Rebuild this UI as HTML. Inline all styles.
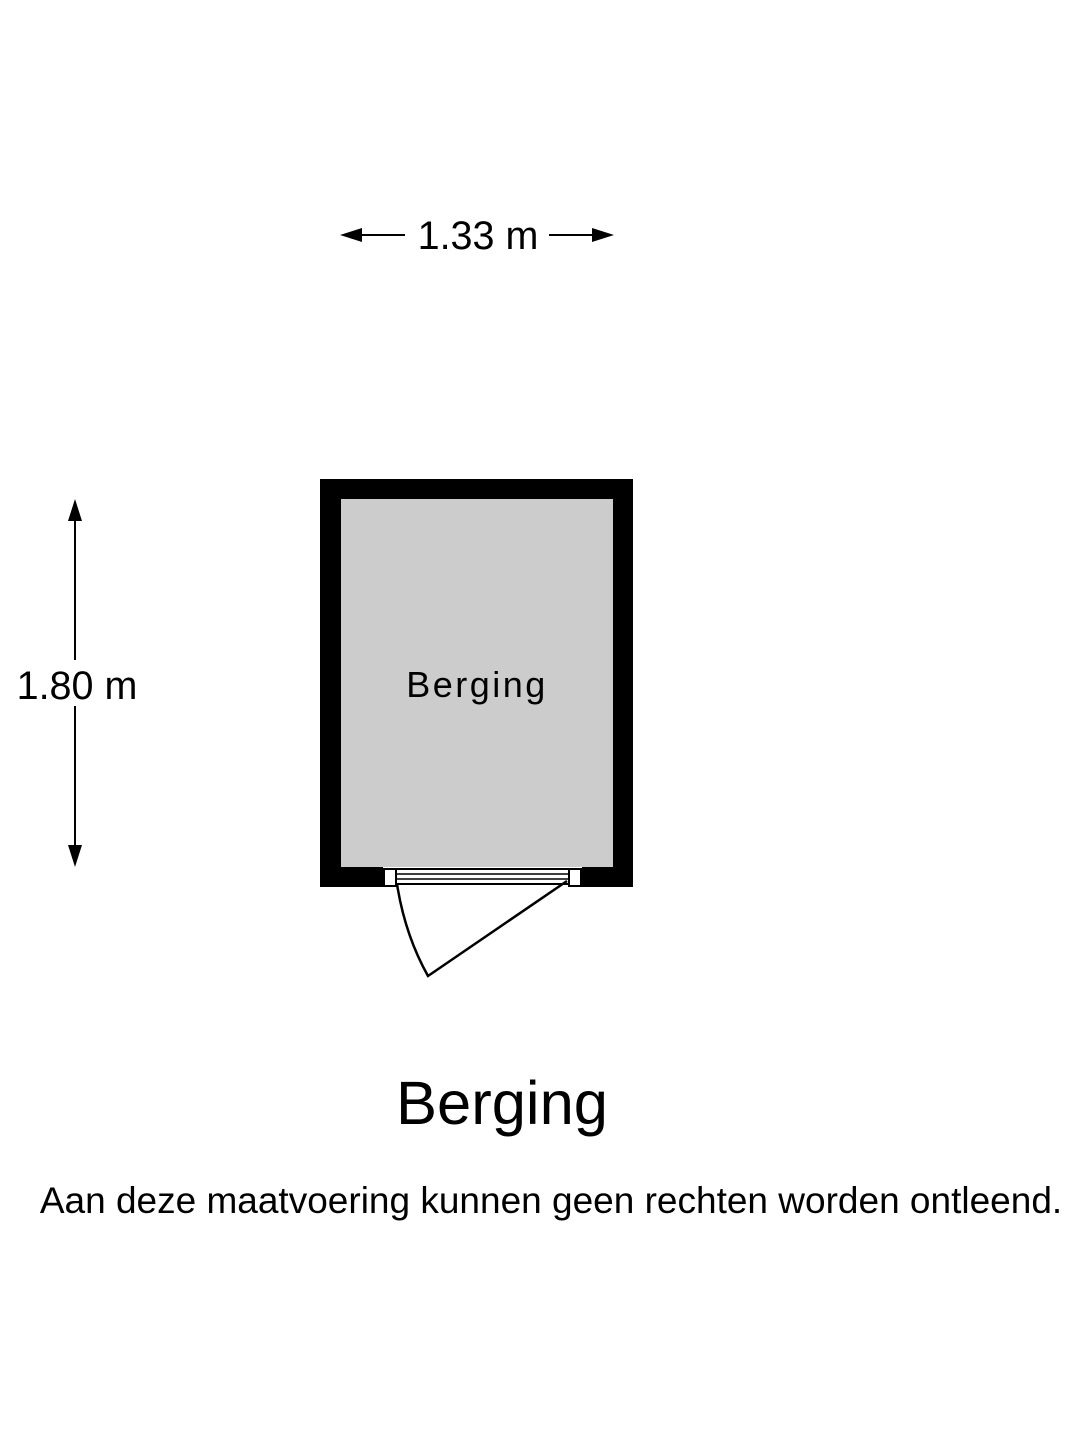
<!DOCTYPE html>
<html><head><meta charset="utf-8"><style>
html,body{margin:0;padding:0;background:#fff;}
svg{display:block;}
text{font-family:"Liberation Sans",Arial,sans-serif;fill:#000;}
</style></head><body>
<svg width="1080" height="1440" viewBox="0 0 1080 1440" xmlns="http://www.w3.org/2000/svg">
<rect width="1080" height="1440" fill="#fff"/>
<line x1="355" y1="235" x2="405" y2="235" stroke="#000" stroke-width="2"/>
<polygon points="340,235 362,228 362,242" fill="#000"/>
<line x1="549" y1="235" x2="598" y2="235" stroke="#000" stroke-width="2"/>
<polygon points="614,235 592,228 592,242" fill="#000"/>
<text x="478" y="249" font-size="39.5" text-anchor="middle">1.33 m</text>
<line x1="75" y1="515" x2="75" y2="660" stroke="#000" stroke-width="2"/>
<line x1="75" y1="706" x2="75" y2="852" stroke="#000" stroke-width="2"/>
<polygon points="75,499 68,521 82,521" fill="#000"/>
<polygon points="75,867 68,845 82,845" fill="#000"/>
<text x="77" y="699" font-size="39.5" text-anchor="middle">1.80 m</text>
<rect x="320" y="479" width="313" height="408" fill="#000"/>
<rect x="341" y="499" width="272" height="368" fill="#cccccc"/>
<rect x="383" y="867" width="199" height="20" fill="#fff"/>
<rect x="384" y="869" width="12" height="17" fill="#fff" stroke="#000" stroke-width="2"/>
<rect x="569" y="869" width="12" height="17" fill="#fff" stroke="#000" stroke-width="2"/>
<line x1="397" y1="869" x2="568" y2="869" stroke="#000" stroke-width="2"/>
<line x1="397" y1="874" x2="568" y2="874" stroke="#000" stroke-width="1.5"/>
<line x1="397" y1="879" x2="568" y2="879" stroke="#000" stroke-width="1.5"/>
<line x1="397" y1="884" x2="568" y2="884" stroke="#000" stroke-width="2"/>
<path d="M397,884 Q405,935 428,976 L567,881" fill="none" stroke="#000" stroke-width="2.5"/>
<text x="477" y="697" font-size="36" text-anchor="middle" letter-spacing="2.5">Berging</text>
<text x="502" y="1124" font-size="61.5" text-anchor="middle">Berging</text>
<text x="551" y="1213" font-size="37" text-anchor="middle">Aan deze maatvoering kunnen geen rechten worden ontleend.</text>
</svg>
</body></html>
